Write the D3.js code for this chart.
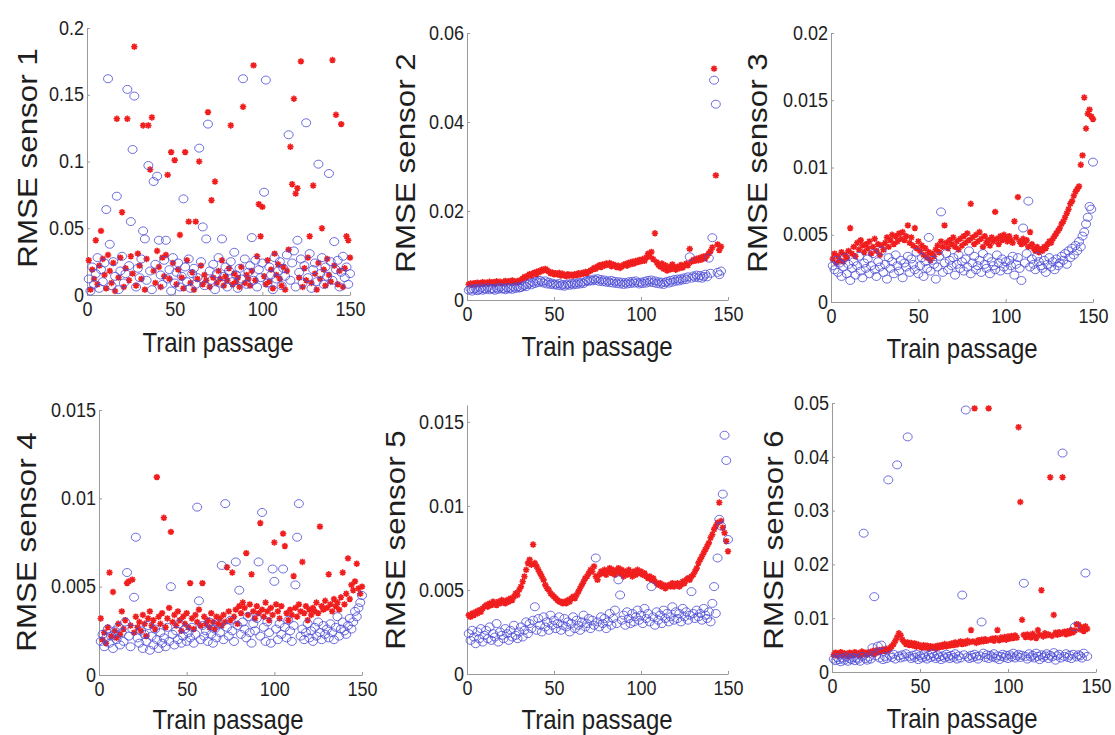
<!DOCTYPE html>
<meta charset="utf-8">
<script src="https://d3js.org/d3.v7.min.js"></script>
<style>
  body { margin: 0; background: #fff; }
  text { font-family: "Liberation Sans", Arial, sans-serif; fill: #1e1e1e; }
</style>
<body>
<div id="chart"></div>
<script>

// ---- data: one value per train passage (passage = index + 1) ----
var sensor1Red = [.026,.004,.019,.012,.041,.008,.022,.048,.027,.015, .005,.03,.018,.009,.024,.003,.132,.013,.028,.062,
  .006,.02,.132,.011,.029,.016,.186,.007,.031,.022, .012,.127,.004,.027,.127,.094,.133,.018,.009,.033,
  .021,.006,.028,.014,.03,.09,.012,.107,.024,.101, .008,.019,.045,.013,.005,.107,.026,.055,.009,.017,
  .004,.055,.012,.1,.022,.008,.015,.011,.137,.006, .071,.013,.085,.009,.018,.012,.026,.007,.014,.011,
  .02,.127,.008,.016,.01,.013,.006,.021,.141,.009, .015,.012,.007,.018,.172,.011,.029,.068,.044,.066,
  .014,.008,.026,.01,.019,.005,.031,.015,.023,.012, .007,.021,.004,.018,.034,.111,.083,.147,.076,.08,
  .013,.175,.006,.02,.011,.028,.044,.009,.082,.016, .004,.024,.012,.05,.019,.007,.027,.015,.01,.176,
  .022,.135,.008,.018,.128,.006,.02,.044,.041,.028];
var sensor1Blue = [.012,.003,.021,.008,.016,.028,.005,.019,.01,.024, .064,.162,.038,.007,.025,.014,.074,.004,.018,.029,
  .009,.016,.154,.022,.055,.109,.149,.006,.02,.013, .027,.048,.042,.011,.097,.018,.004,.085,.023,.089,
  .041,.015,.008,.026,.041,.012,.019,.003,.028,.009, .017,.024,.006,.014,.072,.021,.01,.027,.005,.016,
  .02,.008,.013,.11,.025,.051,.007,.042,.128,.018, .011,.023,.004,.016,.028,.009,.042,.014,.021,.006,
  .018,.025,.01,.032,.015,.005,.02,.012,.162,.027, .008,.017,.022,.043,.011,.026,.006,.019,.013,.024,
  .077,.161,.009,.021,.015,.004,.028,.012,.018,.025, .007,.02,.014,.03,.12,.011,.024,.033,.006,.041,
  .017,.027,.009,.022,.129,.013,.031,.005,.019,.024, .01,.098,.016,.028,.008,.021,.014,.091,.025,.011,
  .04,.019,.026,.006,.017,.029,.013,.021,.008,.016];

var sensor2Red = [.0035,.0037,.0034,.0038,.0036,.0039,.0035,.0038,.0040,.0036, .0039,.0037,.0041,.0038,.0040,.0036,.0042,.0039,.0041,.0038,
  .0040,.0043,.0039,.0042,.0040,.0044,.0041,.0039,.0043,.0041, .0045,.0048,.0052,.0050,.0055,.0058,.0054,.0060,.0062,.0058,
  .0065,.0063,.0068,.0066,.0070,.0067,.0064,.0060,.0062,.0058, .0060,.0057,.0061,.0055,.0059,.0056,.0053,.0058,.0055,.0057,
  .0054,.0058,.0056,.0060,.0057,.0061,.0059,.0063,.0060,.0064, .0066,.0068,.0072,.0070,.0075,.0078,.0074,.0080,.0077,.0082,
  .0079,.0083,.0076,.0080,.0078,.0074,.0077,.0072,.0075,.0079, .0081,.0077,.0084,.0080,.0086,.0082,.0088,.0085,.0090,.0087,
  .0092,.0088,.0095,.0104,.0098,.0108,.0092,.0150,.0085,.0079, .0075,.0082,.0070,.0078,.0066,.0074,.0069,.0080,.0072,.0068,
  .0075,.0071,.0079,.0073,.0077,.0082,.0078,.0115,.0086,.0090, .0088,.0093,.0089,.0095,.0091,.0098,.0094,.0100,.0105,.0110,
  .0118,.0520,.0280,.0125,.0112,.0120];
var sensor2Blue = [.0022,.0025,.0020,.0024,.0026,.0021,.0023,.0027,.0022,.0025, .0024,.0028,.0023,.0026,.0025,.0022,.0027,.0024,.0029,.0025,
  .0026,.0023,.0028,.0025,.0027,.0024,.0029,.0026,.0030,.0027, .0028,.0031,.0033,.0030,.0035,.0038,.0034,.0040,.0037,.0042,
  .0039,.0044,.0041,.0038,.0043,.0036,.0040,.0035,.0038,.0034, .0036,.0033,.0037,.0032,.0035,.0031,.0034,.0036,.0033,.0037,
  .0034,.0038,.0035,.0039,.0036,.0040,.0037,.0041,.0044,.0042, .0045,.0043,.0047,.0044,.0048,.0042,.0046,.0041,.0045,.0040,
  .0043,.0039,.0044,.0038,.0042,.0037,.0041,.0036,.0040,.0035, .0039,.0036,.0041,.0037,.0042,.0038,.0043,.0039,.0036,.0040,
  .0037,.0042,.0038,.0044,.0040,.0045,.0039,.0043,.0037,.0041, .0036,.0040,.0035,.0039,.0042,.0038,.0044,.0040,.0046,.0042,
  .0047,.0043,.0048,.0045,.0050,.0046,.0052,.0097,.0049,.0054, .0051,.0056,.0050,.0055,.0049,.0053,.0058,.0052,.0094,.0060,
  .0140,.0494,.0440,.0062,.0057,.0065];

var sensor3Red = [.0032,.0036,.0029,.0034,.0031,.0037,.0030,.0035,.0033,.0038, .0055,.0036,.0041,.0034,.0044,.0039,.0046,.0042,.0037,.0043,
  .0040,.0045,.0036,.0041,.0047,.0038,.0043,.0035,.0042,.0039, .0044,.0048,.0041,.0046,.0050,.0043,.0049,.0045,.0051,.0047,
  .0052,.0046,.0049,.0057,.0044,.0048,.0042,.0055,.0040,.0045, .0038,.0042,.0035,.0040,.0033,.0037,.0031,.0036,.0034,.0039,
  .0042,.0037,.0045,.0041,.0057,.0044,.0040,.0046,.0043,.0048, .0041,.0045,.0039,.0047,.0042,.0049,.0044,.0051,.0046,.0073,
  .0048,.0043,.0050,.0045,.0052,.0047,.0041,.0049,.0044,.0046, .0042,.0048,.0045,.0067,.0047,.0043,.0049,.0046,.0050,.0047,
  .0045,.0049,.0046,.0044,.0060,.0048,.0078,.0045,.0043,.0047, .0044,.0046,.0041,.0052,.0043,.0040,.0038,.0041,.0037,.0039,
  .0038,.0041,.0040,.0043,.0045,.0044,.0047,.0049,.0051,.0053, .0055,.0058,.0060,.0063,.0066,.0069,.0073,.0075,.0079,.0082,
  .0084,.0086,.0102,.0109,.0152,.0129,.0140,.0143,.0138,.0136];
var sensor3Blue = [.0027,.0024,.0031,.0022,.0029,.0019,.0026,.0033,.0021,.0028, .0016,.0025,.0030,.0020,.0027,.0034,.0023,.0018,.0029,.0025,
  .0032,.0021,.0027,.0036,.0024,.0019,.0030,.0026,.0038,.0022, .0028,.0017,.0033,.0025,.0030,.0021,.0035,.0027,.0023,.0031,
  .0018,.0029,.0026,.0034,.0022,.0032,.0028,.0024,.0037,.0021, .0027,.0033,.0019,.0030,.0025,.0048,.0023,.0031,.0028,.0017,
  .0026,.0034,.0067,.0022,.0029,.0036,.0024,.0031,.0027,.0033, .0020,.0028,.0035,.0025,.0030,.0023,.0032,.0026,.0038,.0021,
  .0029,.0034,.0024,.0027,.0031,.0022,.0036,.0028,.0025,.0033, .0021,.0030,.0027,.0024,.0035,.0029,.0023,.0032,.0026,.0030,
  .0024,.0031,.0027,.0034,.0020,.0028,.0033,.0025,.0016,.0055, .0029,.0036,.0075,.0026,.0032,.0028,.0024,.0034,.0030,.0027,
  .0025,.0031,.0022,.0028,.0033,.0026,.0030,.0024,.0032,.0027, .0029,.0034,.0031,.0036,.0028,.0038,.0033,.0040,.0035,.0042,
  .0038,.0045,.0041,.0049,.0052,.0058,.0063,.0071,.0069,.0104];

var sensor4Red = [.0032,.0020,.0024,.0018,.0027,.0058,.0022,.0047,.0025,.0021, .0029,.0023,.0036,.0026,.0031,.0052,.0053,.0028,.0054,.0024,
  .0033,.0027,.0030,.0025,.0034,.0029,.0022,.0032,.0036,.0028, .0031,.0026,.0112,.0033,.0029,.0035,.0089,.0027,.0032,.0038,
  .0081,.0030,.0034,.0028,.0036,.0031,.0025,.0033,.0029,.0035, .0027,.0052,.0032,.0026,.0034,.0030,.0037,.0028,.0052,.0033,
  .0029,.0031,.0027,.0035,.0030,.0026,.0033,.0029,.0032,.0028, .0034,.0030,.0061,.0036,.0031,.0058,.0033,.0037,.0029,.0039,
  .0035,.0041,.0038,.0069,.0034,.0040,.0057,.0036,.0032,.0039, .0035,.0086,.0037,.0033,.0041,.0036,.0031,.0038,.0034,.0075,
  .0040,.0036,.0032,.0039,.0080,.0073,.0035,.0031,.0037,.0034, .0056,.0038,.0033,.0040,.0036,.0064,.0035,.0039,.0031,.0037,
  .0034,.0038,.0036,.0041,.0035,.0084,.0039,.0037,.0042,.0038, .0057,.0040,.0036,.0043,.0039,.0041,.0037,.0044,.0058,.0040,
  .0046,.0066,.0043,.0051,.0048,.0053,.0063,.0049,.0046,.0050];
var sensor4Blue = [.0019,.0023,.0016,.0021,.0026,.0018,.0022,.0015,.0025,.0020, .0027,.0017,.0024,.0019,.0030,.0058,.0022,.0016,.0026,.0044,
  .0078,.0021,.0018,.0025,.0015,.0023,.0019,.0028,.0014,.0022, .0017,.0026,.0020,.0015,.0024,.0018,.0021,.0016,.0027,.0019,
  .0050,.0023,.0017,.0025,.0020,.0029,.0018,.0022,.0026,.0019, .0024,.0021,.0027,.0018,.0023,.0095,.0042,.0020,.0028,.0022,
  .0025,.0019,.0030,.0023,.0018,.0026,.0021,.0029,.0024,.0062, .0020,.0097,.0027,.0022,.0031,.0025,.0019,.0064,.0028,.0048,
  .0023,.0030,.0026,.0021,.0033,.0024,.0018,.0029,.0025,.0032, .0064,.0022,.0092,.0027,.0019,.0030,.0024,.0018,.0060,.0053,
  .0026,.0020,.0029,.0023,.0060,.0027,.0021,.0031,.0025,.0019, .0028,.0051,.0078,.0097,.0022,.0026,.0020,.0024,.0029,.0021,
  .0025,.0019,.0027,.0022,.0030,.0024,.0020,.0028,.0023,.0026, .0021,.0029,.0024,.0020,.0027,.0033,.0022,.0026,.0030,.0025,
  .0023,.0028,.0032,.0026,.0030,.0036,.0033,.0038,.0041,.0045];

var sensor5Red = [.0035,.0034,.0036,.0035,.0037,.0036,.0038,.0037,.0039,.0040, .0041,.0040,.0042,.0041,.0043,.0042,.0041,.0043,.0042,.0044,
  .0043,.0042,.0044,.0043,.0045,.0044,.0046,.0048,.0047,.0050, .0052,.0055,.0058,.0062,.0066,.0068,.0065,.0077,.0066,.0064,
  .0062,.0060,.0058,.0056,.0053,.0051,.0050,.0048,.0047,.0046, .0045,.0044,.0043,.0043,.0042,.0043,.0042,.0044,.0043,.0045,
  .0046,.0045,.0047,.0049,.0051,.0053,.0055,.0057,.0058,.0060, .0062,.0061,.0064,.0058,.0056,.0059,.0061,.0060,.0062,.0059,
  .0061,.0063,.0060,.0062,.0059,.0061,.0063,.0060,.0062,.0058, .0061,.0059,.0062,.0060,.0058,.0061,.0059,.0062,.0060,.0061,
  .0059,.0060,.0058,.0057,.0058,.0056,.0057,.0055,.0054,.0053, .0054,.0052,.0053,.0051,.0052,.0053,.0052,.0054,.0052,.0053,
  .0054,.0052,.0053,.0055,.0054,.0056,.0057,.0056,.0058,.0059, .0061,.0063,.0066,.0068,.0070,.0072,.0074,.0076,.0078,.0081,
  .0083,.0086,.0088,.0090,.0102,.0091,.0087,.0084,.0079,.0073];
var sensor5Blue = [.0024,.0020,.0026,.0022,.0018,.0025,.0021,.0027,.0019,.0023, .0026,.0021,.0028,.0020,.0024,.0022,.0030,.0019,.0025,.0023,
  .0021,.0027,.0024,.0020,.0026,.0022,.0029,.0023,.0021,.0025, .0028,.0022,.0026,.0031,.0024,.0030,.0027,.0032,.0040,.0026,
  .0033,.0029,.0025,.0034,.0028,.0031,.0026,.0035,.0029,.0032, .0027,.0030,.0034,.0026,.0029,.0033,.0028,.0031,.0025,.0030,
  .0034,.0027,.0032,.0029,.0026,.0031,.0035,.0028,.0030,.0033, .0027,.0032,.0029,.0069,.0031,.0028,.0034,.0030,.0033,.0027,
  .0031,.0036,.0029,.0033,.0038,.0030,.0056,.0047,.0032,.0035, .0029,.0037,.0033,.0030,.0036,.0031,.0034,.0038,.0032,.0035,
  .0030,.0039,.0033,.0036,.0031,.0052,.0034,.0029,.0037,.0032, .0035,.0030,.0038,.0033,.0036,.0031,.0034,.0040,.0032,.0037,
  .0033,.0036,.0031,.0039,.0034,.0037,.0032,.0035,.0049,.0036, .0033,.0038,.0034,.0036,.0032,.0039,.0035,.0033,.0037,.0031,
  .0042,.0052,.0036,.0069,.0092,.0088,.0107,.0142,.0127,.0080];

var sensor6Red = [.0032,.0036,.0030,.0034,.0037,.0031,.0035,.0033,.0029,.0036, .0034,.0031,.0037,.0033,.0035,.0030,.0038,.0034,.0036,.0032,
  .0037,.0035,.0039,.0033,.0040,.0036,.0041,.0038,.0042,.0039, .0043,.0040,.0045,.0048,.0052,.0058,.0065,.0072,.0068,.0060,
  .0056,.0052,.0055,.0050,.0054,.0049,.0053,.0047,.0051,.0048, .0045,.0050,.0046,.0049,.0044,.0048,.0045,.0047,.0043,.0049,
  .0046,.0050,.0047,.0052,.0048,.0051,.0049,.0053,.0050,.0055, .0051,.0054,.0057,.0052,.0056,.0053,.0058,.0055,.0078,.0057,
  .0490,.0054,.0059,.0056,.0060,.0057,.0061,.0058,.0490,.0060, .0062,.0058,.0063,.0078,.0059,.0064,.0061,.0065,.0060,.0066,
  .0062,.0067,.0063,.0068,.0064,.0455,.0316,.0097,.0069,.0065, .0070,.0066,.0064,.0071,.0067,.0063,.0078,.0069,.0152,.0066,
  .0072,.0068,.0070,.0362,.0067,.0106,.0073,.0069,.0074,.0071, .0362,.0075,.0070,.0076,.0072,.0078,.0074,.0077,.0089,.0088,
  .0079,.0083,.0076,.0085,.0080];
var sensor6Blue = [.0024,.0021,.0027,.0023,.0019,.0026,.0022,.0028,.0020,.0025, .0023,.0027,.0021,.0026,.0024,.0020,.0029,.0258,.0025,.0022,
  .0028,.0024,.0045,.0140,.0030,.0048,.0026,.0050,.0023,.0029, .0025,.0357,.0031,.0027,.0033,.0024,.0385,.0030,.0026,.0032,
  .0028,.0034,.0437,.0029,.0025,.0031,.0027,.0033,.0023,.0030, .0026,.0032,.0028,.0024,.0031,.0027,.0034,.0029,.0025,.0032,
  .0028,.0023,.0030,.0026,.0033,.0029,.0025,.0031,.0027,.0034, .0024,.0030,.0026,.0143,.0032,.0487,.0028,.0025,.0031,.0027,
  .0033,.0029,.0024,.0030,.0093,.0035,.0027,.0032,.0025,.0031, .0028,.0034,.0026,.0030,.0023,.0029,.0033,.0027,.0031,.0025,
  .0032,.0028,.0035,.0026,.0030,.0033,.0027,.0031,.0165,.0029, .0024,.0034,.0028,.0031,.0026,.0035,.0029,.0023,.0032,.0027,
  .0030,.0034,.0025,.0031,.0028,.0036,.0022,.0030,.0033,.0026, .0407,.0029,.0034,.0027,.0031,.0025,.0033,.0084,.0028,.0032,
  .0030,.0026,.0035,.0184,.0029];

var sensorNames = ["RMSE sensor 1","RMSE sensor 2","RMSE sensor 3","RMSE sensor 4","RMSE sensor 5","RMSE sensor 6"];
var xTicks = [0, 50, 100, 150];
var xTickLabels = ["0", "50", "100", "150"];
var xTitle = "Train passage";

var yMax = [0.2, 0.06, 0.02, 0.015, 0.016, 0.05];
var yTicks = [
  [0, 0.05, 0.1, 0.15, 0.2],
  [0, 0.02, 0.04, 0.06],
  [0, 0.005, 0.01, 0.015, 0.02],
  [0, 0.005, 0.01, 0.015],
  [0, 0.005, 0.01, 0.015],
  [0, 0.01, 0.02, 0.03, 0.04, 0.05]
];
var yTickLabels = [
  ["0", "0.05", "0.1", "0.15", "0.2"],
  ["0", "0.02", "0.04", "0.06"],
  ["0", "0.005", "0.01", "0.015", "0.02"],
  ["0", "0.005", "0.01", "0.015"],
  ["0", "0.005", "0.01", "0.015"],
  ["0", "0.01", "0.02", "0.03", "0.04", "0.05"]
];
var redSeries = [sensor1Red, sensor2Red, sensor3Red, sensor4Red, sensor5Red, sensor6Red];
var blueSeries = [sensor1Blue, sensor2Blue, sensor3Blue, sensor4Blue, sensor5Blue, sensor6Blue];

// pixel box of every panel (left/right = x 0..150, bottom/top = y 0..yMax)
var layout = [
  {left: 87,  right: 350,  bottom: 295, top: 28,  ylabX: 27,  ylabY: 158, xlabX: 218, xlabY: 352},
  {left: 467, right: 728,  bottom: 300, top: 33,  ylabX: 405, ylabY: 163, xlabX: 597, xlabY: 356},
  {left: 831, right: 1093, bottom: 302, top: 33,  ylabX: 757, ylabY: 163, xlabX: 962, xlabY: 358},
  {left: 99,  right: 362,  bottom: 675, top: 410, ylabX: 26,  ylabY: 542, xlabX: 228, xlabY: 729},
  {left: 467, right: 728,  bottom: 674, top: 405, ylabX: 395, ylabY: 540, xlabX: 597, xlabY: 729},
  {left: 832, right: 1096, bottom: 672, top: 403, ylabX: 773, ylabY: 540, xlabX: 962, xlabY: 728}
];

var svg = d3.select("#chart")
  .append("svg")
    .attr("width", 1115)
    .attr("height", 735);

// matlab style '*' marker
var star = "M-3.2,0L3.2,0M0,-3.2L0,3.2M-2.3,-2.3L2.3,2.3M-2.3,2.3L2.3,-2.3";

layout.forEach(function(L, k) {
  var x = d3.scaleLinear().domain([0, 150]).range([L.left, L.right]);
  var y = d3.scaleLinear().domain([0, yMax[k]]).range([L.bottom, L.top]);
  var g = svg.append("g");

  // axes
  var gx = g.append("g")
    .attr("transform", "translate(0," + L.bottom + ")")
    .call(d3.axisBottom(x).tickValues(xTicks)
      .tickFormat(function(d, i) { return xTickLabels[i]; })
      .tickSize(-3).tickSizeOuter(0).tickPadding(7));
  var gy = g.append("g")
    .attr("transform", "translate(" + L.left + ",0)")
    .call(d3.axisLeft(y).tickValues(yTicks[k])
      .tickFormat(function(d, i) { return yTickLabels[k][i]; })
      .tickSize(-3).tickSizeOuter(0).tickPadding(3));

  [gx, gy].forEach(function(a) {
    a.select(".domain").attr("stroke", "#9a9a9a");
    a.selectAll(".tick line").attr("stroke", "#9a9a9a");
    a.selectAll("text")
      .attr("font-family", "Liberation Sans, Arial, sans-serif")
      .attr("font-size", "18px")
      .attr("fill", "#1e1e1e")
      .attr("transform", "scale(1,1.08)");
  });

  // red stars
  g.append("g").selectAll("path")
    .data(redSeries[k])
    .enter()
    .append("path")
      .attr("d", star)
      .attr("transform", function(d, i) { return "translate(" + x(i + 1) + "," + y(d) + ")"; })
      .attr("stroke", "#f01e1e")
      .attr("stroke-width", 1.6)
      .attr("fill", "none");

  // blue circles
  g.append("g").selectAll("ellipse")
    .data(blueSeries[k])
    .enter()
    .append("ellipse")
      .attr("cx", function(d, i) { return x(i + 1); })
      .attr("cy", function(d) { return y(d); })
      .attr("rx", 4.5)
      .attr("ry", 4)
      .attr("fill", "none")
      .attr("stroke", "#4a4ad6")
      .attr("stroke-opacity", 0.8)
      .attr("stroke-width", 1);

  // axis titles
  g.append("text")
    .attr("transform", "translate(" + L.xlabX + "," + L.xlabY + ") scale(1,1.15)")
    .attr("text-anchor", "middle")
    .attr("font-size", "24px")
    .text(xTitle);

  g.append("text")
    .attr("transform", "translate(" + L.ylabX + "," + L.ylabY + ") rotate(-90) scale(1.12,1)")
    .attr("text-anchor", "middle")
    .attr("dy", "0.36em")
    .attr("font-size", "28px")
    .text(sensorNames[k]);
});

</script>
</body>
